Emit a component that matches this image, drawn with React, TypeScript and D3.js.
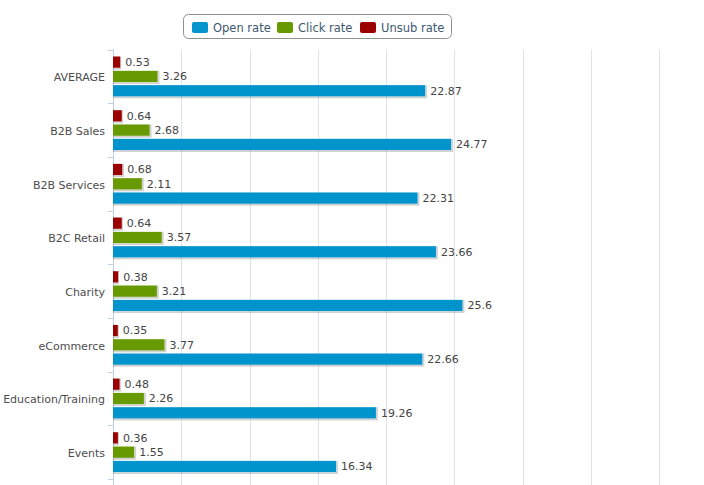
import React from "react";
import * as d3 from "d3";

const categories = ["AVERAGE", "B2B Sales", "B2B Services", "B2C Retail", "Charity", "eCommerce", "Education/Training", "Events"];
const openRate = [22.87, 24.77, 22.31, 23.66, 25.6, 22.66, 19.26, 16.34];
const clickRate = [3.26, 2.68, 2.11, 3.57, 3.21, 3.77, 2.26, 1.55];
const unsubRate = [0.53, 0.64, 0.68, 0.64, 0.38, 0.35, 0.48, 0.36];
const xTicks = [0, 5, 10, 15, 20, 25, 30, 35, 40];

const series = [
  { name: "Open rate", color: "#0594CD", values: openRate },
  { name: "Click rate", color: "#669A00", values: clickRate },
  { name: "Unsub rate", color: "#9B0000", values: unsubRate },
];

const W = 704;
const H = 485;
const plotLeft = 113;
const plotRight = 659;
const plotTop = 49.6;
const plotBottom = 479;

export default function App() {
  const x = d3.scaleLinear().domain([0, 40]).range([plotLeft, plotRight]);
  const y = d3.scaleBand<string>().domain(categories).range([plotTop, plotBottom]).padding(0);
  const bw = y.bandwidth();
  const gp = bw * 0.1;
  const inner = d3
    .scaleBand<string>()
    .domain(["Unsub rate", "Click rate", "Open rate"])
    .range([gp, bw - gp])
    .padding(0);
  const barH = inner.bandwidth() * 0.78;
  const font = "'DejaVu Sans', Verdana, sans-serif";

  const legendItems = [
    { s: series[0], x: 192 },
    { s: series[1], x: 277 },
    { s: series[2], x: 360 },
  ];

  return (
    <svg width={W} height={H} style={{ position: "absolute", left: 0, top: 0 }} fontFamily={font}>
      <defs>
        <filter id="sh" x="-10%" y="-50%" width="120%" height="200%">
          <feOffset dx="1" dy="1" in="SourceAlpha" result="o" />
          <feMorphology operator="dilate" radius="1" in="o" result="d" />
          <feComponentTransfer in="d" result="t">
            <feFuncA type="linear" slope="0.18" />
          </feComponentTransfer>
          <feMerge>
            <feMergeNode in="t" />
            <feMergeNode in="SourceGraphic" />
          </feMerge>
        </filter>
      </defs>
      <rect x={0} y={0} width={W} height={H} fill="#fff" />
      {xTicks.map((t) => (
        <line key={t} x1={Math.round(x(t)) + 0.5} x2={Math.round(x(t)) + 0.5} y1={plotTop} y2={H} stroke="#DCE3EC" strokeWidth={1} />
      ))}
      <line x1={plotLeft + 0.5} x2={plotLeft + 0.5} y1={plotTop} y2={H} stroke="#C0D0E0" />
      {categories.map((c) => (
        <line key={"t" + c} x1={plotLeft - 5} x2={plotLeft} y1={Math.round(y(c)!) + 0.5} y2={Math.round(y(c)!) + 0.5} stroke="#C0D0E0" />
      ))}
      <line x1={plotLeft - 5} x2={plotLeft} y1={Math.round(plotBottom) + 0.5} y2={Math.round(plotBottom) + 0.5} stroke="#C0D0E0" />
      {categories.map((c) => (
        <text key={"l" + c} x={plotLeft - 8} y={y(c)! + bw / 2 + 5} textAnchor="end" fontSize={11} fill="#4D4D4D">
          {c}
        </text>
      ))}
      {categories.map((c, i) => (
        <g key={"g" + c}>
          {series.map((s) => {
            const v = s.values[i];
            const cy = y(c)! + inner(s.name)! + inner.bandwidth() / 2;
            const x0 = x(0);
            const x1 = x(v);
            return (
              <g key={s.name}>
                <rect x={x0} y={cy - barH / 2} width={x1 - x0} height={barH} fill={s.color} filter="url(#sh)" />
                <text x={x1 + 5} y={cy + 4} fontSize={11} fill="#444">
                  {String(v)}
                </text>
              </g>
            );
          })}
        </g>
      ))}
      <rect x={183.5} y={14.5} width={268} height={24} rx={5} ry={5} fill="#fff" stroke="#909090" />
      {legendItems.map(({ s, x: lx }) => (
        <g key={"lg" + s.name}>
          <rect x={lx} y={22} width={16} height={11} rx={2} fill={s.color} />
          <text x={lx + 21} y={31.5} fontSize={11.5} fill="#3E576F">
            {s.name}
          </text>
        </g>
      ))}
    </svg>
  );
}
